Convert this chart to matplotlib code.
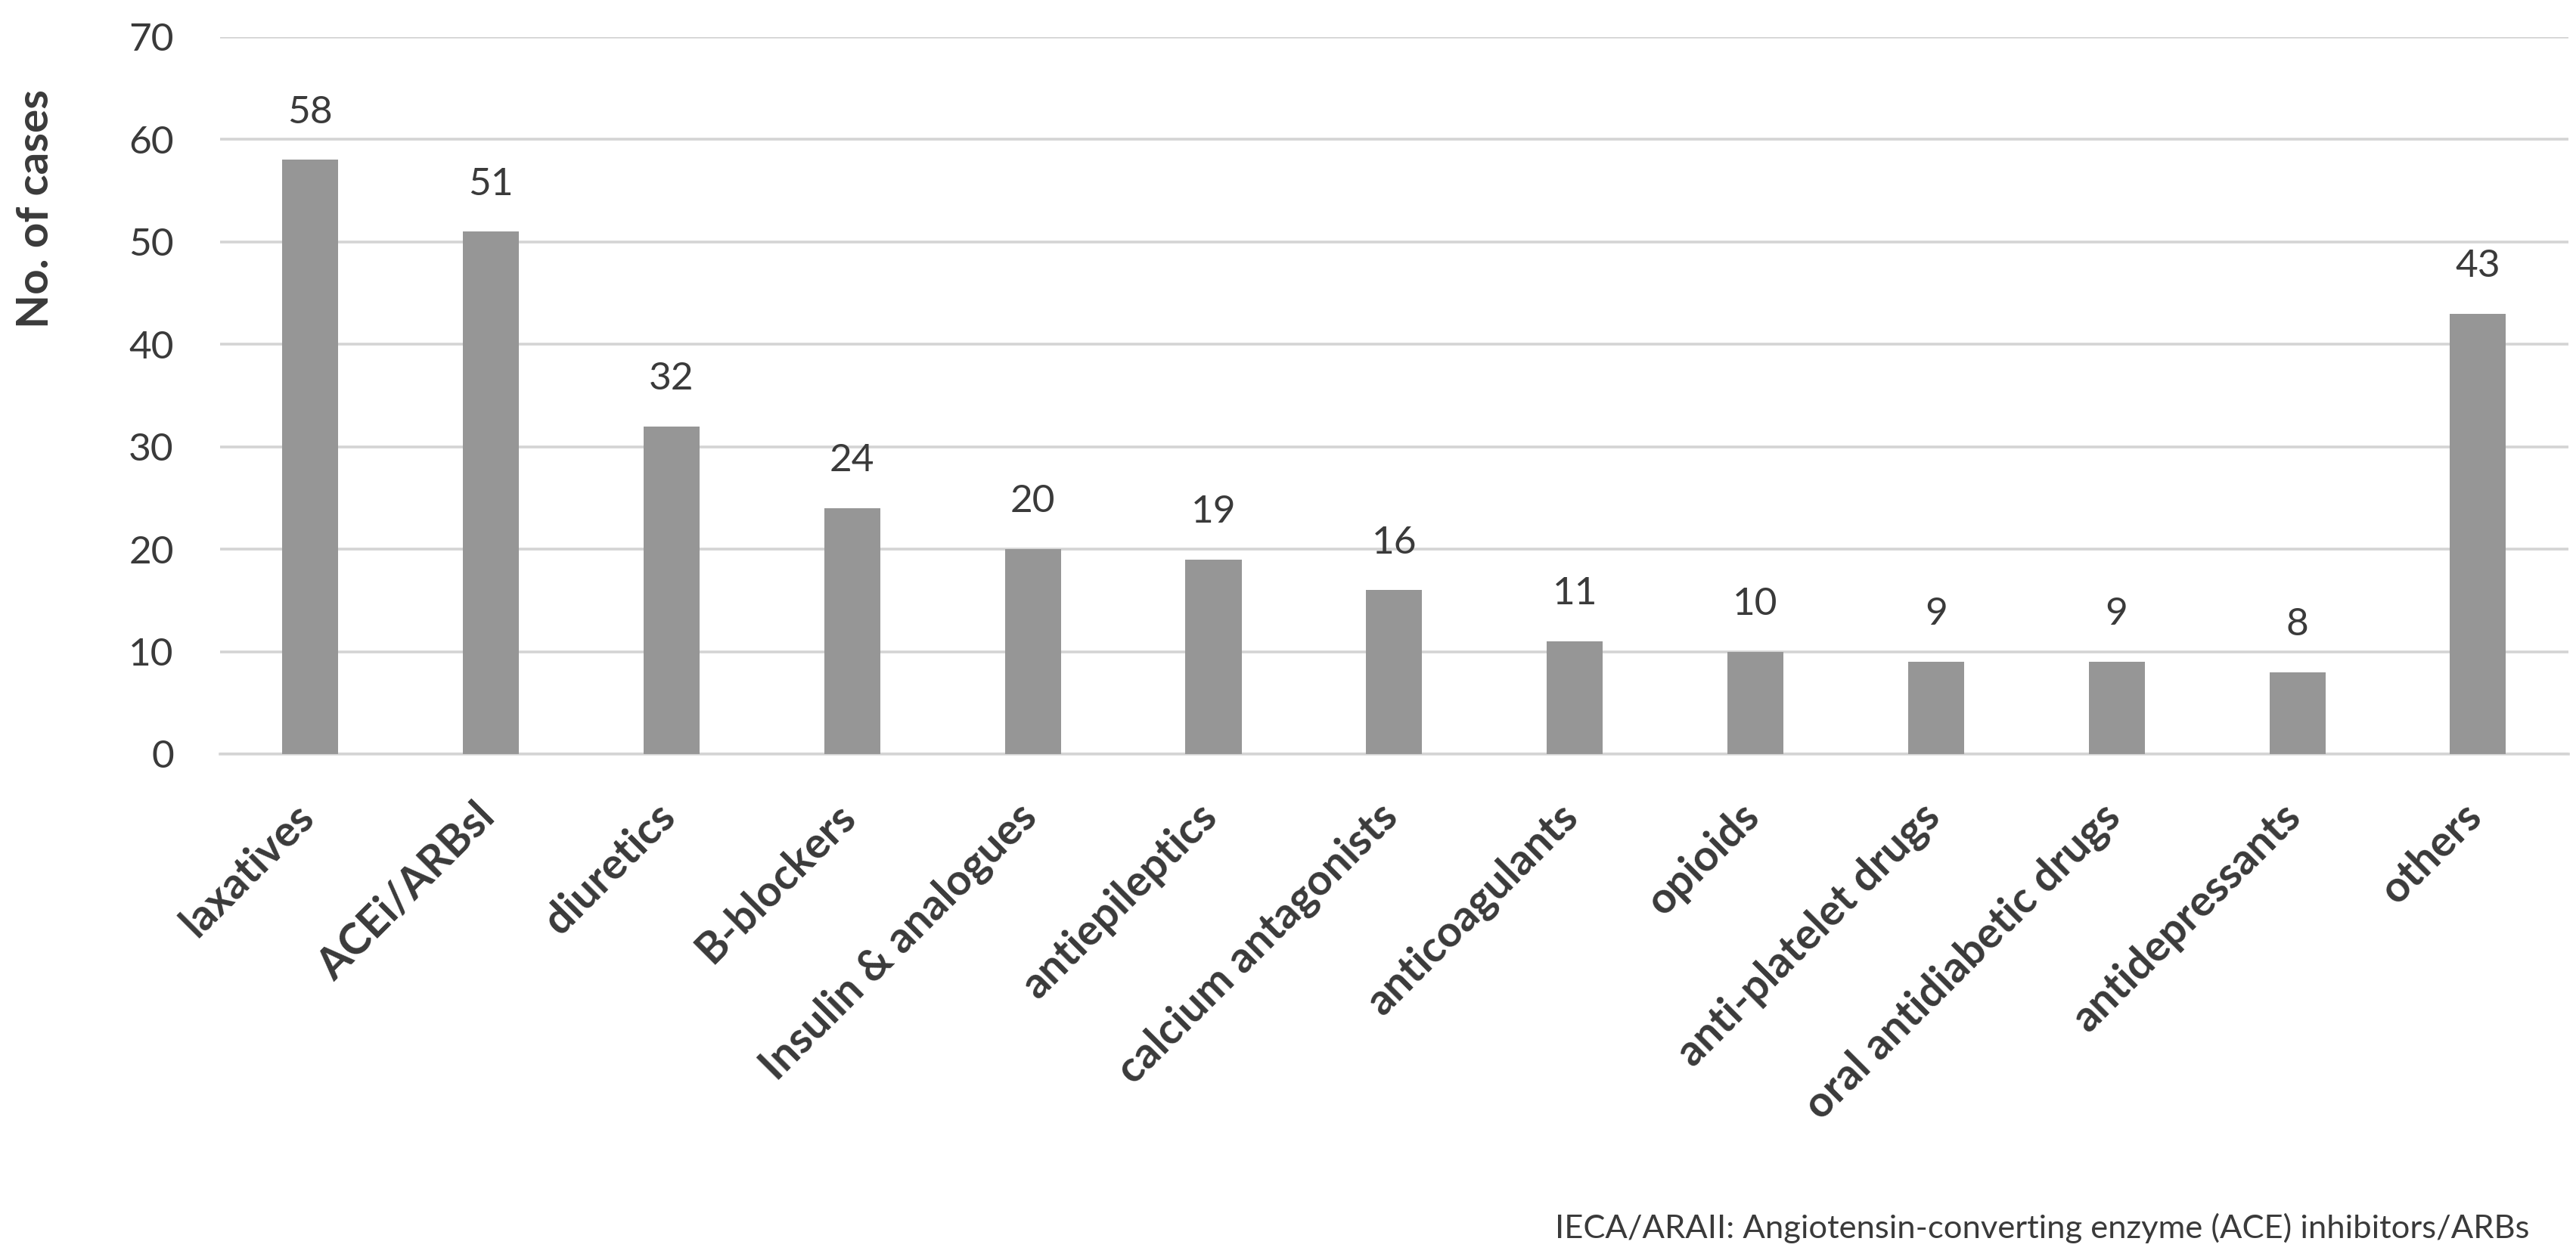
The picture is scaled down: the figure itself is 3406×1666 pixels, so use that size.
import matplotlib
matplotlib.use("Agg")
import matplotlib.pyplot as plt
import matplotlib.transforms as mtransforms
import numpy as np

categories = ["laxatives", "ACEi/ARBsl", "diuretics", "B-blockers", "Insulin & analogues",
              "antiepileptics", "calcium antagonists", "anticoagulants", "opioids",
              "anti-platelet drugs", "oral antidiabetic drugs", "antidepressants", "others"]
values = [58, 51, 32, 24, 20, 19, 16, 11, 10, 9, 9, 8, 43]
yticks = [0, 10, 20, 30, 40, 50, 60, 70]
ylabel = "No. of cases"
footnote = "IECA/ARAII: Angiotensin-converting enzyme (ACE) inhibitors/ARBs"

plt.rcParams['font.family'] = ['Lato', 'DejaVu Sans']
text_color = "#3a3a3a"

fig = plt.figure(figsize=(34.06, 16.66), dpi=100)
ax = fig.add_axes([0.0854, 0.4016, 0.997 - 0.0854, 0.9706 - 0.4016])

x = np.arange(len(categories))
ax.bar(x, values, width=0.31, color="#969696", zorder=3)

ax.set_xlim(-0.5, len(categories) - 0.5)
ax.set_ylim(0, 70)
ax.set_yticks(yticks)
ax.set_yticklabels([str(t) for t in yticks], fontsize=37, color=text_color)
ax.yaxis.grid(True, color="#d4d4d4", linewidth=2.6, zorder=0)
ax.set_axisbelow(True)
for s in ["top", "right", "left"]:
    ax.spines[s].set_visible(False)
ax.spines["bottom"].set_color("#d4d4d4")
ax.spines["bottom"].set_linewidth(2.6)
ax.tick_params(axis="y", length=0, pad=44)
ax.tick_params(axis="x", length=0, pad=62)

ax.set_xticks(x)
ax.set_xticklabels(categories, rotation=45, ha="right", va="baseline",
                   rotation_mode="anchor", fontsize=41, fontweight="bold", color=text_color)
shift = mtransforms.ScaledTranslation(0.08, 0, fig.dpi_scale_trans)
for lbl in ax.get_xticklabels():
    lbl.set_transform(lbl.get_transform() + shift)

for xi, v in zip(x, values):
    ax.annotate(str(v), (xi, v), xytext=(0, 35), textcoords="offset points",
                ha="center", va="baseline", fontsize=37, color=text_color)

fig.text(0.0139, 0.834, ylabel, rotation=90, ha="center", va="center",
         fontsize=42, fontweight="bold", color=text_color)
fig.text(0.982, 0.0174, footnote, ha="right", va="baseline", fontsize=31.3, color=text_color)

fig.savefig("out.png", dpi=100)
